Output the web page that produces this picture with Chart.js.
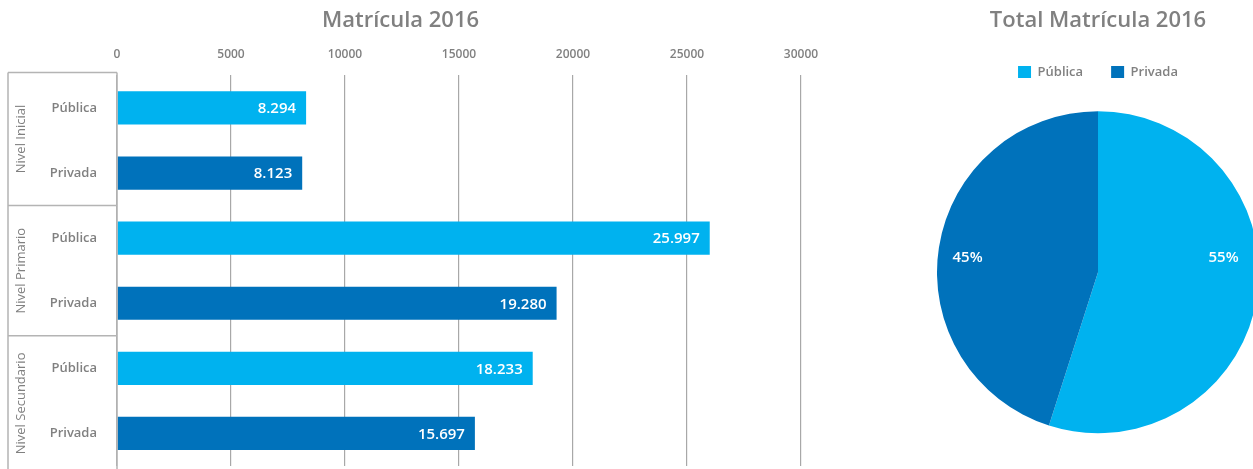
<!DOCTYPE html>
<html>
<head>
<meta charset="utf-8">
<script src="https://cdn.jsdelivr.net/npm/chart.js@4"></script>
<style>
  html, body { margin: 0; padding: 0; background: #fff; overflow: hidden; }
  #wrap { position: relative; width: 1253px; height: 469px; overflow: hidden; }
  #barBox { position: absolute; left: 0; top: 0; width: 838px; height: 469px; }
  #pieBox { position: absolute; left: 937px; top: 0; width: 322px; height: 469px; }
</style>
</head>
<body>
<div id="wrap">
  <div id="barBox"><canvas id="barChart"></canvas></div>
  <div id="pieBox"><canvas id="pieChart"></canvas></div>
</div>
<script>
// --- data ---
const groups = ['Nivel Inicial', 'Nivel Primario', 'Nivel Secundario'];
const sectors = ['Pública', 'Privada', 'Pública', 'Privada', 'Pública', 'Privada'];
const matricula = [8294, 8123, 25997, 19280, 18233, 15697];
const xTicks = [0, 5000, 10000, 15000, 20000, 25000, 30000];
const pieLabels = ['Pública', 'Privada'];
const pieTotals = [52524, 43100];

const LIGHT = '#00b2ef';
const DARK = '#0072bb';
const FONT = "'Open Sans', sans-serif";
const GREY = '#808080';

// 8294 -> "8.294"
function fmt(n) {
    return String(n).replace(/\B(?=(\d{3})+(?!\d))/g, '.');
}

// values inside the bars, right aligned
const barValues = {
    id: 'barValues',
    afterDatasetsDraw(chart) {
        const ctx = chart.ctx;
        const meta = chart.getDatasetMeta(0);
        ctx.save();
        ctx.fillStyle = '#fff';
        ctx.font = "600 15px " + FONT;
        ctx.textAlign = 'right';
        ctx.textBaseline = 'middle';
        meta.data.forEach((bar, i) => {
            ctx.fillText(fmt(matricula[i]), bar.x - 10, bar.y + 1);
        });
        ctx.restore();
    }
};

// the little table on the left with the group names
const groupBoxes = {
    id: 'groupBoxes',
    afterDraw(chart) {
        const ctx = chart.ctx;
        const y = chart.scales.y;
        const area = chart.chartArea;
        const left = 8, right = area.left;
        const top = area.top - 3, bottom = chart.height + 2;
        const per = sectors.length / groups.length;
        const edge = k => (y.getPixelForValue(k * per - 1) + y.getPixelForValue(k * per)) / 2;
        ctx.save();
        ctx.strokeStyle = '#b4b4b4';
        ctx.lineWidth = 1.5;
        ctx.beginPath();
        ctx.moveTo(left, top); ctx.lineTo(right, top);
        ctx.moveTo(left, top); ctx.lineTo(left, bottom);
        ctx.moveTo(right, top); ctx.lineTo(right, bottom);
        for (let g = 1; g < groups.length; g++) {
            ctx.moveTo(left, edge(g)); ctx.lineTo(right, edge(g));
        }
        ctx.stroke();

        ctx.fillStyle = GREY;
        ctx.font = "13px " + FONT;
        ctx.textAlign = 'center';
        ctx.textBaseline = 'middle';
        groups.forEach((g, i) => {
            const y0 = i === 0 ? top : edge(i);
            const y1 = i === groups.length - 1 ? bottom : edge(i + 1);
            ctx.save();
            ctx.translate(21, (y0 + y1) / 2);
            ctx.rotate(-Math.PI / 2);
            ctx.fillText(g, 0, 0);
            ctx.restore();
        });
        ctx.restore();
    }
};

new Chart(document.getElementById('barChart'), {
    type: 'bar',
    data: {
        labels: sectors,
        datasets: [{
            data: matricula,
            backgroundColor: sectors.map((s, i) => i % 2 === 0 ? LIGHT : DARK),
            categoryPercentage: 1,
            barPercentage: 0.51
        }]
    },
    options: {
        indexAxis: 'y',
        responsive: true,
        maintainAspectRatio: false,
        animation: false,
        layout: { padding: { right: 37, bottom: 3 } },
        plugins: {
            legend: { display: false },
            tooltip: { enabled: false },
            title: {
                display: true,
                text: 'Matrícula 2016',
                color: GREY,
                font: { family: FONT, size: 22, weight: '600' },
                padding: { top: 8, bottom: 6 }
            }
        },
        scales: {
            x: {
                position: 'top',
                min: 0,
                max: 30000,
                afterBuildTicks: s => { s.ticks = xTicks.map(v => ({ value: v })); },
                afterFit: s => { s.height = 35; },
                grid: { color: '#a8a8a8', lineWidth: 1.2, drawTicks: false },
                border: { display: false },
                ticks: {
                    padding: 14,
                    color: GREY,
                    font: { family: FONT, size: 12, weight: '600' },
                    callback: v => String(v)
                }
            },
            y: {
                // fixed width, and no extra label padding at top / bottom
                afterFit: s => { s.width = 117; s.paddingTop = 0; s.paddingBottom = 0; },
                grid: { display: false },
                border: { display: false },
                ticks: {
                    padding: 12,
                    color: GREY,
                    font: { family: FONT, size: 13, weight: '600' }
                }
            }
        }
    },
    plugins: [barValues, groupBoxes]
});

// percent labels sit left/right of the centre, a bit above it
const pieValues = {
    id: 'pieValues',
    afterDatasetsDraw(chart) {
        const ctx = chart.ctx;
        const meta = chart.getDatasetMeta(0);
        const total = pieTotals.reduce((a, b) => a + b, 0);
        ctx.save();
        ctx.fillStyle = '#fff';
        ctx.font = "600 15px " + FONT;
        ctx.textAlign = 'center';
        ctx.textBaseline = 'middle';
        meta.data.forEach((arc, i) => {
            const mid = (arc.startAngle + arc.endAngle) / 2;
            const side = Math.cos(mid) >= 0 ? 1 : -1;
            const dx = side > 0 ? 0.78 : 0.81;
            ctx.fillText(Math.round(pieTotals[i] / total * 100) + '%',
                arc.x + side * dx * arc.outerRadius, arc.y - 14);
        });
        ctx.restore();
    }
};

new Chart(document.getElementById('pieChart'), {
    type: 'pie',
    data: {
        labels: pieLabels,
        datasets: [{
            data: pieTotals,
            backgroundColor: [LIGHT, DARK],
            borderWidth: 0
        }]
    },
    options: {
        responsive: true,
        maintainAspectRatio: false,
        animation: false,
        layout: { padding: { bottom: 13 } },
        plugins: {
            tooltip: { enabled: false },
            title: {
                display: true,
                text: 'Total Matrícula 2016',
                color: GREY,
                font: { family: FONT, size: 22, weight: '600' },
                padding: { top: 8, bottom: 3 }
            },
            legend: {
                display: true,
                labels: {
                    boxWidth: 13,
                    boxHeight: 12,
                    padding: 28,
                    color: GREY,
                    font: { family: FONT, size: 13, weight: '600' }
                }
            }
        }
    },
    plugins: [pieValues]
});
</script>
</body>
</html>
